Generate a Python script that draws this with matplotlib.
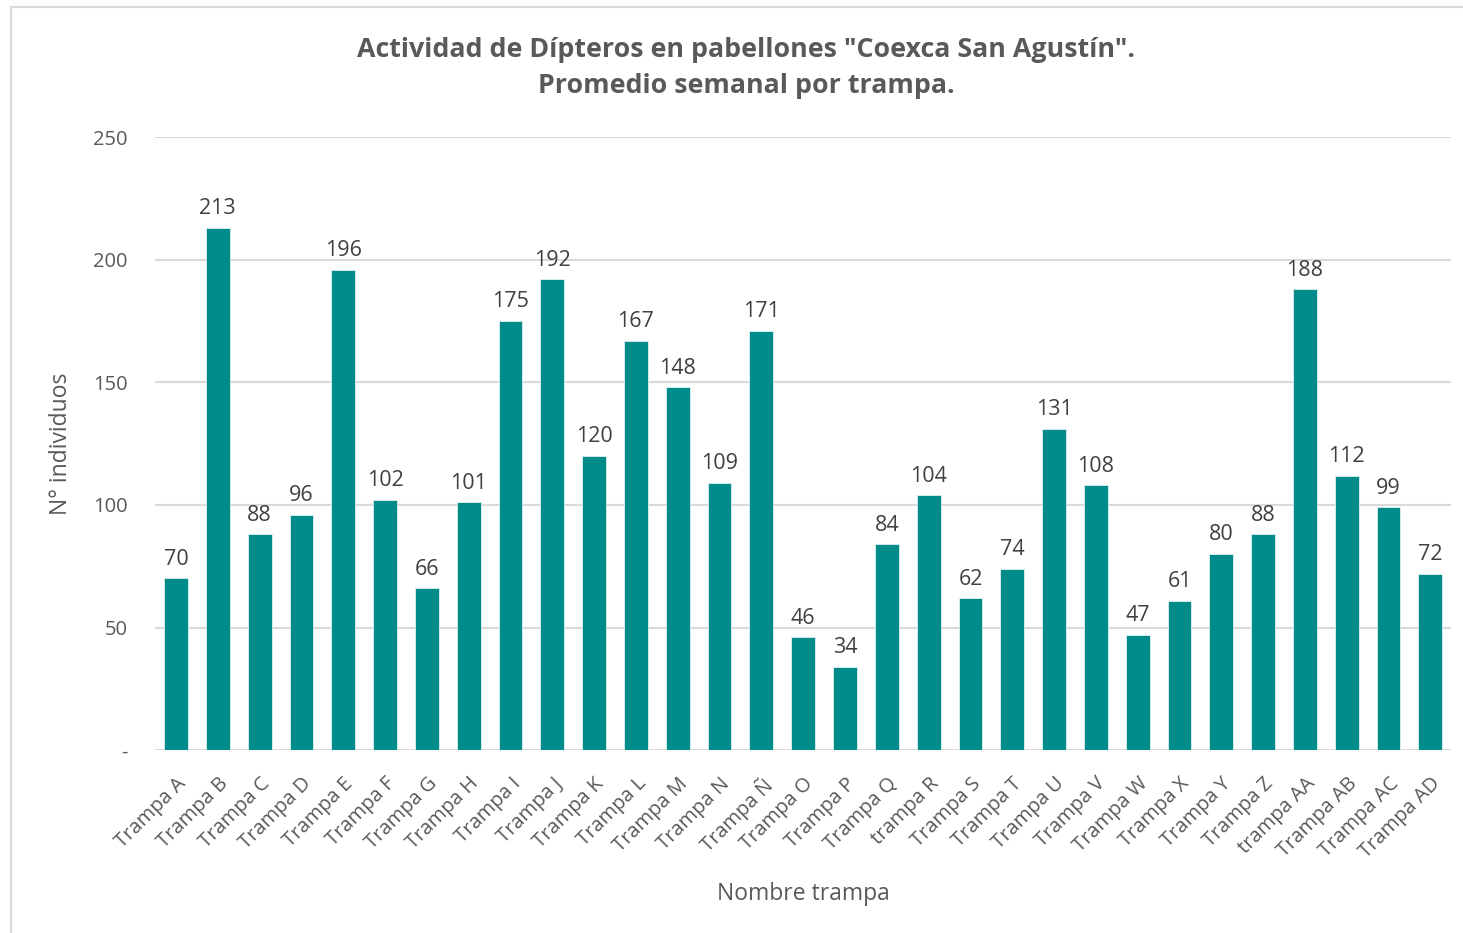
import matplotlib.pyplot as plt
from matplotlib.patches import Rectangle

trampas = ["Trampa A", "Trampa B", "Trampa C", "Trampa D", "Trampa E", "Trampa F",
           "Trampa G", "Trampa H", "Trampa I", "Trampa J", "Trampa K", "Trampa L",
           "Trampa M", "Trampa N", "Trampa Ñ", "Trampa O", "Trampa P", "Trampa Q",
           "trampa R", "Trampa S", "Trampa T", "Trampa U", "Trampa V", "Trampa W",
           "Trampa X", "Trampa Y", "Trampa Z", "trampa AA", "Trampa AB", "Trampa AC",
           "Trampa AD"]
promedio = [70, 213, 88, 96, 196, 102, 66, 101, 175, 192, 120, 167, 148, 109, 171,
            46, 34, 84, 104, 62, 74, 131, 108, 47, 61, 80, 88, 188, 112, 99, 72]
yticks = [0, 50, 100, 150, 200, 250]
ytick_labels = ["-", "50", "100", "150", "200", "250"]

plt.rcParams['font.family'] = ['Open Sans', 'DejaVu Sans']
gris = '#595959'

fig = plt.figure(figsize=(14.63, 9.33), dpi=100)
ax = fig.add_axes([0.106, 0.196, 0.886, 0.657])

x = range(len(trampas))
barras = ax.bar(x, promedio, width=0.57, color='#008B8B', edgecolor='#e0f0f0',
                linewidth=0.6, zorder=3)
for b, v in zip(barras, promedio):
    ax.text(b.get_x() + b.get_width() / 2, v + 3.5, str(v), ha='center', va='bottom',
            fontsize=15.5, color='#404040')

ax.set_xlim(-0.5, len(trampas) - 0.5)
ax.set_ylim(0, 250)
ax.set_yticks(yticks)
ax.set_yticklabels(ytick_labels, fontsize=14.5, color=gris)
ax.set_xticks(list(x))
ax.set_xticklabels(trampas, rotation=45, ha='right', rotation_mode='anchor',
                   fontsize=14.5, color=gris)
ax.grid(axis='y', color='#d9d9d9', linewidth=1.5, zorder=0)
ax.tick_params(length=0)
ax.tick_params(axis='x', pad=17)
ax.tick_params(axis='y', pad=20)
for s in ax.spines.values():
    s.set_visible(False)

ax.set_ylabel("N° individuos", fontsize=16.5, color=gris, labelpad=14)
ax.set_xlabel("Nombre trampa", fontsize=16.5, color=gris, labelpad=14)
fig.text(0.51, 0.927, 'Actividad de Dípteros en pabellones "Coexca San Agustín".\nPromedio semanal por trampa.',
         ha='center', va='center', fontsize=19.3, fontweight='bold', color=gris,
         linespacing=1.5)

fig.patches.append(Rectangle((0.0075, -0.01), 1.5, 1.0025, transform=fig.transFigure,
                             fill=False, edgecolor='#d9d9d9', linewidth=1.5))

fig.savefig("out.png", dpi=100)
